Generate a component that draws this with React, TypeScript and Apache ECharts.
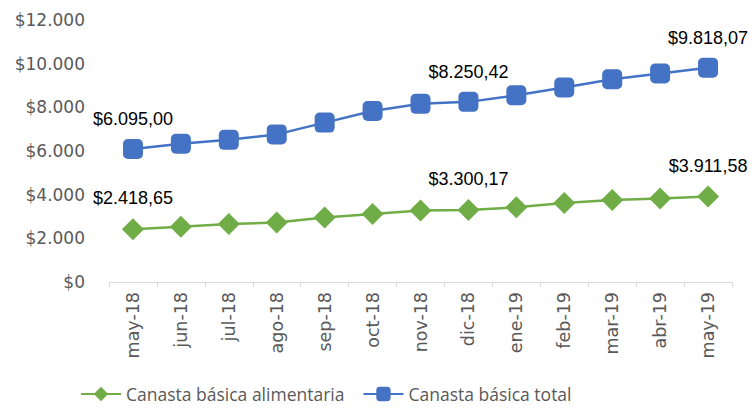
import React, { useEffect, useRef } from "react";
import * as echarts from "echarts";

const categories = ["may-18", "jun-18", "jul-18", "ago-18", "sep-18", "oct-18", "nov-18", "dic-18", "ene-19", "feb-19", "mar-19", "abr-19", "may-19"];
const alimentaria = [2418.65, 2535, 2660, 2720, 2950, 3115, 3270, 3300.17, 3420, 3620, 3760, 3820, 3911.58];
const total = [6095.0, 6330, 6510, 6760, 7300, 7830, 8160, 8250.42, 8550, 8910, 9290, 9550, 9818.07];
const labelledIdx = [0, 7, 12];

function fmtMoney(v: number, dec: number): string {
  const fixed = v.toFixed(dec);
  const [intPart, decPart] = fixed.split(".");
  const withDots = intPart.replace(/\B(?=(\d{3})+(?!\d))/g, ".");
  return "$" + withDots + (decPart ? "," + decPart : "");
}

const labelStyle = {
  show: true,
  position: "top" as const,
  distance: 11,
  color: "#000",
  fontSize: 18,
  fontFamily: "'Liberation Sans Narrow', 'Arial Narrow', 'Liberation Sans', sans-serif",
  formatter: (p: any) => fmtMoney(p.value, 2),
};

function buildData(vals: number[]) {
  return vals.map((v, i) => (labelledIdx.includes(i) ? { value: v, label: labelStyle } : { value: v }));
}

export default function App() {
  const ref = useRef<HTMLDivElement>(null);
  useEffect(() => {
    if (!ref.current) return;
    const chart = echarts.init(ref.current, null, { renderer: "svg" });
    const gray = "#595959";
    chart.setOption({
      animation: false,
      grid: { left: 109, right: 21, top: 20, bottom: 126, containLabel: false },
      legend: {
        left: 75,
        top: 380,
        itemWidth: 40,
        itemHeight: 18,
        itemGap: 18,
        textStyle: { color: gray, fontSize: 17.5, fontFamily: "'Open Sans', sans-serif" },
        data: ["Canasta básica alimentaria", "Canasta básica total"],
      },
      xAxis: {
        type: "category",
        data: categories,
        boundaryGap: true,
        axisLine: { lineStyle: { color: "#d9d9d9", width: 1 } },
        axisTick: { show: true, length: 5, lineStyle: { color: "#d9d9d9" } },
        axisLabel: {
          interval: 0,
          rotate: 90,
          margin: 10,
          color: gray,
          fontSize: 17.5,
          fontFamily: "'DejaVu Sans', sans-serif",
        },
      },
      yAxis: {
        type: "value",
        min: 0,
        max: 12000,
        interval: 2000,
        splitLine: { show: false },
        axisLine: { show: false },
        axisTick: { show: false },
        axisLabel: {
          margin: 24,
          color: gray,
          fontSize: 17,
          fontFamily: "'DejaVu Sans', sans-serif",
          formatter: (v: number) => fmtMoney(v, 0),
        },
      },
      series: [
        {
          name: "Canasta básica alimentaria",
          type: "line",
          data: buildData(alimentaria),
          symbol: "diamond",
          symbolSize: 22,
          lineStyle: { color: "#70ad47", width: 2.5 },
          itemStyle: { color: "#70ad47" },
          label: { show: false },
        },
        {
          name: "Canasta básica total",
          type: "line",
          data: buildData(total),
          symbol: "roundRect",
          symbolSize: 20,
          lineStyle: { color: "#4472c4", width: 2.5 },
          itemStyle: { color: "#4472c4" },
          label: { show: false },
        },
      ],
    });
    return () => chart.dispose();
  }, []);
  return <div ref={ref} style={{ width: 753, height: 408, position: "absolute", left: 0, top: 0 }} />;
}
